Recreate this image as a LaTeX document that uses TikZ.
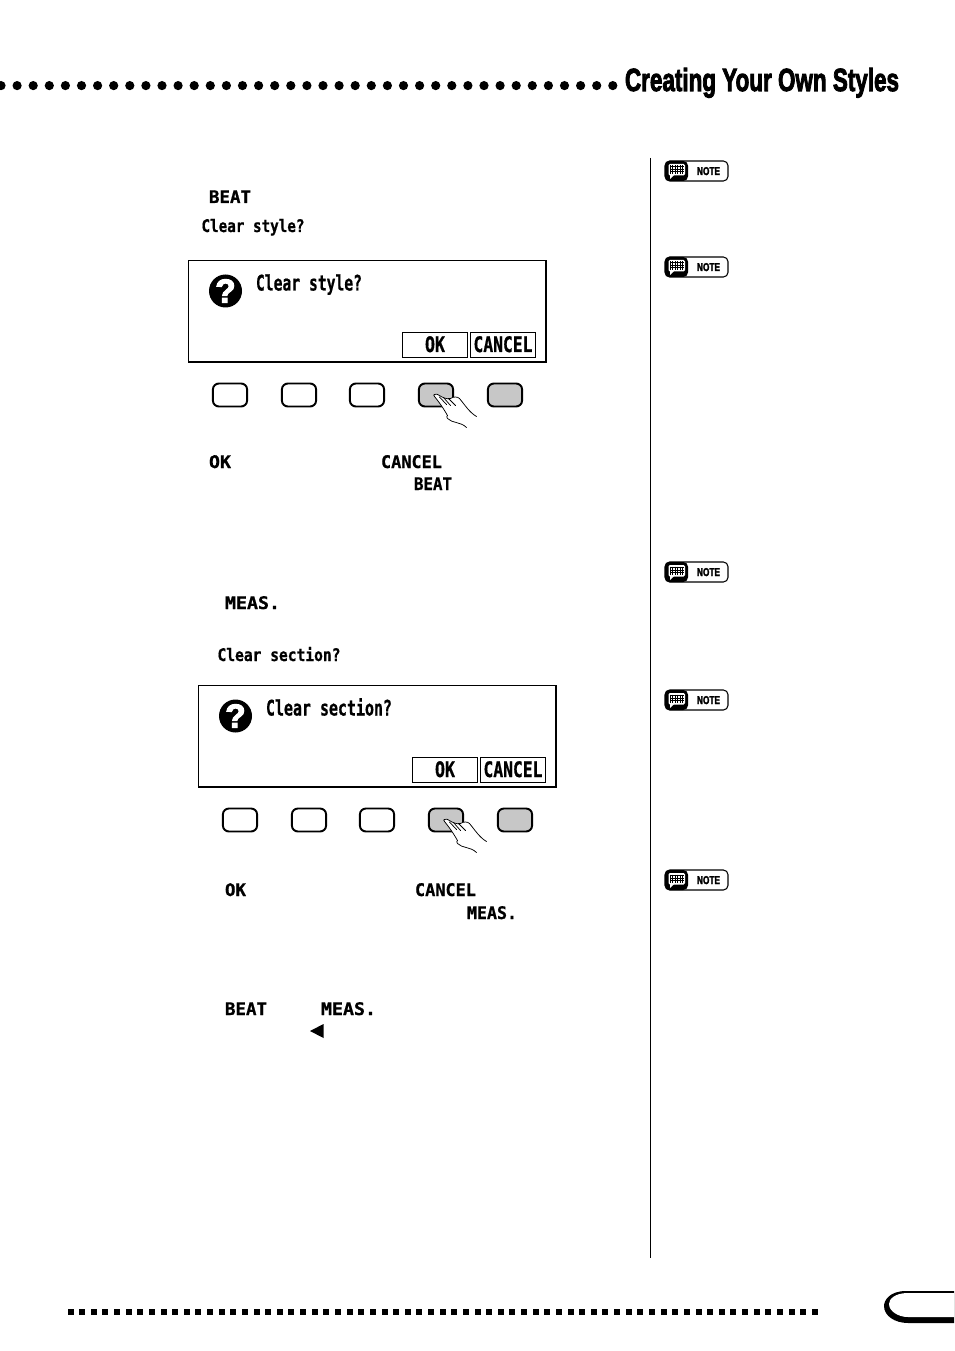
\documentclass[tikz,border=0pt]{standalone}
\usepackage{fontspec}
\usepackage{graphicx}
\setmainfont{Liberation Sans}
\newfontfamily\headf[FakeBold=3.2]{Liberation Sans Bold}
\newfontfamily\lcdf[FakeBold=0.8]{DejaVu Sans Mono Bold}
\definecolor{btngrey}{gray}{0.78}
\newcommand{\fitw}[2]{\resizebox{\dimexpr#1pt*75/100\relax}{\height}{#2}}
\newcommand{\smalllab}[5]{\node[txt] (#1) at (#2,#3) {\fitw{#4}{\fontsize{13}{13}\lcdf #5}};}
\newcommand{\biglab}[5]{\node[txt] (#1) at (#2,#3) {\fitw{#4}{\fontsize{16}{16}\lcdf #5}};}
\tikzset{
  txt/.style={anchor=base west,inner sep=0pt,outer sep=0pt},
  dlg/.style={draw=black,line width=1.1pt,fill=white},
  softbox/.style={draw=black,line width=0.75pt,fill=white},
  btnw/.style={draw=black,line width=1.45pt,rounded corners=4.5pt,fill=white},
  btng/.style={draw=black,line width=1.45pt,rounded corners=4.5pt,fill=btngrey},
  handline/.style={draw=black,line width=0.55pt,line cap=round,line join=round},
  pic dlg/.pic={
    \draw[dlg] (0,0) rectangle (357.5,101.5);
    \draw[softbox] (214,72) rectangle (279,97);
    \draw[softbox] (282,72) rectangle (347,97);
    \fill[black] (37,30.5) circle (16.5);
    \node[inner sep=0pt] at (37,30.5) {\fontsize{25}{25}\selectfont\color{white}\headf ?};
    \node[txt] at (236.5,91.5) {\fitw{20}{\fontsize{16}{16}\lcdf OK}};
    \node[txt] at (285,91.5) {\fitw{59}{\fontsize{16}{16}\lcdf CANCEL}};
    \foreach \x/\s in {24/btnw,93/btnw,161/btnw,230/btng,299/btng}
      \draw[\s] (\x+0.4,123) rectangle ++(34.2,23);
    \fill[white] (246,134) .. controls (248,133) and (249,134) .. (250,134.5)
      .. controls (254,137) and (258,139) .. (262,138)
      .. controls (265,136) and (269,136) .. (271,138)
      .. controls (276,144) and (281,152) .. (288,156)
      -- (278,167) .. controls (272,161) and (264,163) .. (259,155)
      .. controls (256,150) and (254,146) .. (246,136) -- cycle;
    \draw[handline] (278,167) .. controls (272,161) and (264,163) .. (259,158)
      .. controls (258,157) and (258,155.5) .. (259,155)
      .. controls (256,150) and (254,146) .. (246,136)
      .. controls (245,135) and (245,134) .. (246,134)
      .. controls (248,133) and (249,134) .. (250,134.5)
      .. controls (254,137) and (258,139) .. (262,138)
      .. controls (265,136) and (269,136) .. (271,138)
      .. controls (276,144) and (281,152) .. (288,156);
    \draw[handline] (251,136.5) -- (258,144);
    \draw[handline] (255,137) -- (262,145);
    \draw[handline] (260,138) -- (267,145);
  },
  pic note/.pic={
    \draw[black,line width=0.8pt,rounded corners=3.5pt,fill=white] (0,0) rectangle (63,20);
    \fill[black,rounded corners=3.5pt] (0,0) -- (23,0) -- (23,20) -- (0,20) -- cycle;
    \fill[white,rounded corners=1pt] (3.5,3) rectangle (20,14.5);
    \fill[white] (5,14) -- (5,18) -- (9,14) -- cycle;
    \foreach \i in {5,7.5,...,18} \draw[black,line width=0.35pt] (\i,4.5) -- (\i,13);
    \foreach \j in {5.5,8,10.5} \draw[black,line width=0.35pt] (5,\j) -- (18.5,\j);
    \node[txt] at (32,14) {\fitw{23}{\fontsize{8.5}{8.5}\headf NOTE}};
  }
}
\begin{document}
\begin{tikzpicture}[x=0.75pt,y=-0.75pt]
\useasboundingbox (0,0) rectangle (954,1351);
\fill[white] (0,0) rectangle (954,1351);
% header
\foreach \k in {0,...,38} \fill[black] ({1+16.1*\k},85.6) circle (4.6);
\node[txt] (head) at (625,91) {\fitw{274}{\fontsize{24}{24}\headf Creating Your Own Styles}};
% rule
\draw[black,line width=0.75pt] (650,158) -- (650,1258);
% first block
\smalllab{a1}{209}{203}{42}{BEAT}
\smalllab{a2}{201.5}{232}{103}{Clear style?}
\pic at (188.5,260.5) {pic dlg};
\biglab{a3}{256}{290.5}{106}{Clear style?}
\smalllab{a4}{209}{468}{22}{OK}
\smalllab{a5}{381}{468}{61}{CANCEL}
\smalllab{a6}{414}{490}{38}{BEAT}
% second block
\smalllab{b1}{225}{609}{55}{MEAS.}
\smalllab{b2}{217.5}{661}{123}{Clear section?}
\pic at (198.5,685.5) {pic dlg};
\biglab{b3}{266}{715.5}{126}{Clear section?}
\smalllab{b4}{225}{896}{21}{OK}
\smalllab{b5}{415}{896}{61}{CANCEL}
\smalllab{b6}{467}{919}{50}{MEAS.}
% third
\smalllab{c1}{225}{1015}{42}{BEAT}
\smalllab{c2}{321}{1015}{55}{MEAS.}
\fill[black] (310,1031) -- (323.5,1024) -- (323.5,1038) -- cycle;
% notes
\foreach \y in {161,257,562,690,870} \pic at (665,\y) {pic note};
% footer
\foreach \k in {0,...,64} \fill[black] ({67.5+11.63*\k},1308.5) rectangle ++(6,6);
\fill[black] (954,1291) -- (906,1291) .. controls (890,1291) and (884,1300) .. (884,1306)
  .. controls (884,1316) and (895,1323) .. (908,1323) -- (954,1323) -- cycle;
\fill[white] (954,1293) -- (908,1293) .. controls (895,1293) and (889,1299) .. (889,1304)
  .. controls (889,1311) and (898,1317) .. (908,1317) -- (954,1317) -- cycle;
\end{tikzpicture}
\end{document}
